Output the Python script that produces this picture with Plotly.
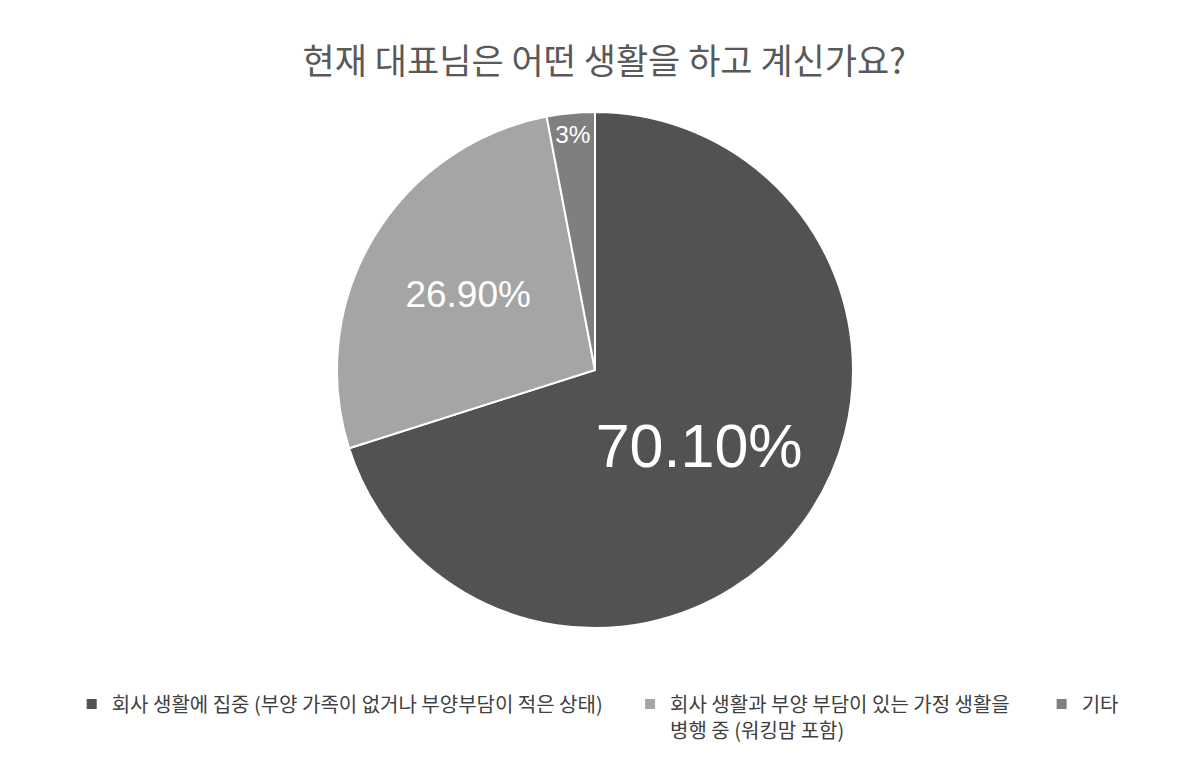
import plotly.graph_objects as go

# 응답 항목과 비율(%)
labels = [
    '회사 생활에 집중 (부양 가족이 없거나 부양부담이 적은 상태)',
    '회사 생활과 부양 부담이 있는 가정 생활을<br>병행 중 (워킹맘 포함)',
    '기타',
]
values = [70.1, 26.9, 3.0]
value_text = ['70.10%', '26.90%', '3%']

colors = ['#525252', '#a5a5a5', '#7f7f7f']
label_sizes = [61, 37, 27]

# 범례 항목 사이 간격을 조금 넓힘
nb = '\u00a0'
legend_names = [
    labels[0] + nb * 5,
    labels[1].replace('<br>', nb * 6 + '<br>'),
    labels[2],
]

fig = go.Figure(data=go.Pie(
    labels=legend_names,
    values=values,
    text=value_text,
    texttemplate='%{text}',
    textposition='inside',
    insidetextorientation='horizontal',
    textfont=dict(color='white', size=label_sizes, family='Liberation Sans, Arial'),
    marker=dict(colors=colors, line=dict(color='white', width=2)),
    sort=False,
    direction='clockwise',
    rotation=0,
    hole=0,
    domain=dict(x=[0.2737, 0.7030], y=[0.1916, 0.8644]),
))

fig.update_layout(
    width=1202, height=767,
    margin=dict(l=0, r=0, t=0, b=0),
    paper_bgcolor='white',
    font=dict(family='Noto Sans CJK KR, Liberation Sans', color='#404040'),
    title=dict(text='현재 대표님은 어떤 생활을 하고 계신가요?', x=0.496, y=0.93,
               xanchor='center', yanchor='middle',
               font=dict(size=35, color='#595959')),
    legend=dict(orientation='h', x=0.053, y=0.118, xanchor='left', yanchor='top',
                valign='top', font=dict(size=20, color='#404040'),
                itemwidth=30, tracegroupgap=0),
    uniformtext=dict(mode=False),
)

fig.write_html('out.html')
